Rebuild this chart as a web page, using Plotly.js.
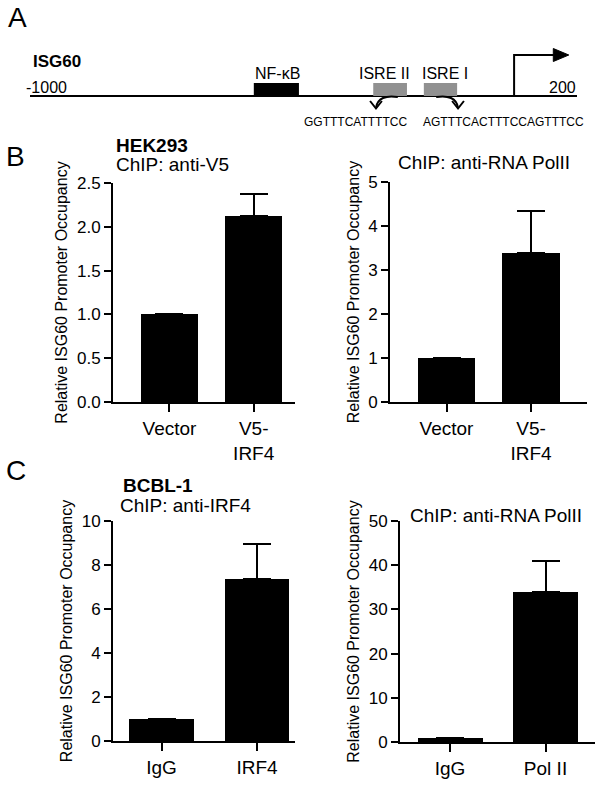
<!DOCTYPE html>
<html>
<head>
<meta charset="utf-8">
<script src="https://cdn.plot.ly/plotly-3.0.1.min.js"></script>
<style>
  body { margin: 0; background: #fff; }
  #chart { width: 602px; height: 785px; }
</style>
</head>
<body>
<div id="chart"></div>
<script>
// Panel A: promoter map (positions in bp relative to TSS, as drawn)
const mapStart = -1000;
const mapEnd = 200;
const elementNames = ['NF-κB', 'ISRE II', 'ISRE I'];
const elementStart = [-509, -247, -136];
const elementEnd = [-410, -173, -63];
const elementLabelPos = [-456, -223, -89];
const elementColors = ['#000000', '#919191', '#919191'];
const tssPos = 62;
const seqTexts = ['GGTTTCATTTTCC', 'AGTTTCACTTTCCAGTTTCC'];

// Panel B: HEK293
const bCats = ['Vector', 'V5-<br>IRF4'];
const bV5Vals = [1.0, 2.12];
const bV5Err = [null, 0.26];
const bPolVals = [1.0, 3.39];
const bPolErr = [null, 0.95];

// Panel C: BCBL-1
const cIrfCats = ['IgG', 'IRF4'];
const cIrfVals = [1.0, 7.35];
const cIrfErr = [null, 1.6];
const cPolCats = ['IgG', 'Pol II'];
const cPolVals = [1.0, 33.9];
const cPolErr = [null, 7.0];

const W = 602, H = 785;
const px = v => v / W;
const py = v => 1 - v / H;
const FONT = 'Liberation Sans, Arial, sans-serif';

function barTrace(cats, vals, err, xa, ya) {
    return {
        type: 'bar',
        x: cats,
        y: vals,
        xaxis: xa,
        yaxis: ya,
        width: 0.68,
        marker: { color: '#000', line: { width: 0 } },
        error_y: {
            type: 'data',
            array: err,
            arrayminus: [0, 0],
            symmetric: false,
            color: '#000',
            thickness: 2,
            width: 14
        },
        hoverinfo: 'skip'
    };
}

const data = [
    barTrace(bCats, bV5Vals, bV5Err, 'x', 'y'),
    barTrace(bCats, bPolVals, bPolErr, 'x2', 'y2'),
    barTrace(cIrfCats, cIrfVals, cIrfErr, 'x3', 'y3'),
    barTrace(cPolCats, cPolVals, cPolErr, 'x4', 'y4')
];

const xCommon = {
    type: 'category',
    showline: true, linecolor: '#000', linewidth: 2,
    ticks: 'outside', ticklen: 8, tickwidth: 2, tickcolor: '#000',
    tickfont: { family: FONT, size: 19, color: '#000' },
    showgrid: false, zeroline: false, fixedrange: true
};
const yTitle = {
    text: 'Relative ISG60 Promoter Occupancy',
    font: { family: FONT, size: 16, color: '#000' },
    standoff: 5
};
const yCommon = {
    showline: true, linecolor: '#000', linewidth: 2,
    ticks: 'outside', ticklen: 7, tickwidth: 2, tickcolor: '#000',
    tickfont: { family: FONT, size: 17, color: '#000' },
    showgrid: false, zeroline: false, fixedrange: true,
    automargin: false,
    title: yTitle
};

const layout = {
    width: W,
    height: H,
    margin: { l: 0, r: 0, t: 0, b: 0 },
    paper_bgcolor: '#fff',
    plot_bgcolor: 'rgba(0,0,0,0)',
    showlegend: false,
    bargap: 0,
    font: { family: FONT, color: '#000' },

    xaxis: Object.assign({}, xCommon, { domain: [px(113), px(295)], anchor: 'y', range: [-0.67, 1.49] }),
    yaxis: Object.assign({}, yCommon, { domain: [py(402), py(183)], anchor: 'x', range: [0, 2.5], dtick: 0.5, tickformat: '.1f' }),
    xaxis2: Object.assign({}, xCommon, { domain: [px(390), px(587)], anchor: 'y2', range: [-0.669, 1.663] }),
    yaxis2: Object.assign({}, yCommon, { domain: [py(402), py(182)], anchor: 'x2', range: [0, 5], dtick: 1 }),
    xaxis3: Object.assign({}, xCommon, { domain: [px(113), px(295)], anchor: 'y3', range: [-0.508, 1.398] }),
    yaxis3: Object.assign({}, yCommon, { domain: [py(741), py(521)], anchor: 'x3', range: [0, 10], dtick: 2 }),
    xaxis4: Object.assign({}, xCommon, { domain: [px(400), px(595)], anchor: 'y4', range: [-0.524, 1.518] }),
    yaxis4: Object.assign({}, yCommon, { domain: [py(742), py(521)], anchor: 'x4', range: [0, 50], dtick: 10 }),

    // hidden axes for the promoter map; 1 y unit = 1 px, line at y = 0
    xaxis5: { domain: [px(30), px(577)], anchor: 'y5', range: [mapStart, mapEnd], visible: false, fixedrange: true },
    yaxis5: { domain: [py(140), py(40)], anchor: 'x5', range: [-44, 56], visible: false, fixedrange: true },

    shapes: [],
    annotations: []
};

// promoter line
layout.shapes.push({ type: 'line', xref: 'x5', yref: 'y5', x0: mapStart, x1: mapEnd, y0: 0, y1: 0, line: { color: '#000', width: 2 } });
// element boxes and their labels
elementNames.forEach((name, i) => {
    layout.shapes.push({
        type: 'rect', xref: 'x5', yref: 'y5',
        x0: elementStart[i], x1: elementEnd[i], y0: 0, y1: 13,
        fillcolor: elementColors[i], line: { width: 0 }
    });
    layout.annotations.push({
        xref: 'x5', yref: 'y5', x: elementLabelPos[i], y: 23,
        text: name, showarrow: false, font: { size: 16 }
    });
});
// transcription start arrow
layout.shapes.push({
    type: 'path', xref: 'x5', yref: 'y5',
    path: `M ${tssPos},0 V 41 H 152`,
    line: { color: '#000', width: 2 }
});
layout.shapes.push({
    type: 'path', xref: 'x5', yref: 'y5',
    path: 'M 148,47.5 L 182,41 L 148,34.5 Z',
    fillcolor: '#000', line: { color: '#000', width: 1 }
});

// curved arrows from the ISREs down to their sequences
function curvedArrow(from, to) {
    const d = to > from ? 1 : -1;
    layout.shapes.push({
        type: 'path', xref: 'x5', yref: 'y5',
        path: `M ${from},-1 C ${from + d * 26},1 ${to - d * 3},-2 ${to},-12`,
        line: { color: '#000', width: 2 }
    });
    layout.shapes.push({
        type: 'path', xref: 'x5', yref: 'y5',
        path: `M ${to - 13},-5 L ${to},-12.5 L ${to + 13},-5`,
        line: { color: '#000', width: 2 }
    });
}
curvedArrow(elementEnd[1] - 20, elementStart[1] + 6);
curvedArrow(elementStart[2] + 27, elementEnd[2] + 2);

function note(text, x, y, size, opts) {
    layout.annotations.push(Object.assign({
        xref: 'paper', yref: 'paper', x: px(x), y: py(y),
        text: text, showarrow: false, font: { size: size, color: '#000' },
        xanchor: 'left', yanchor: 'middle'
    }, opts || {}));
}

// panel A texts
note('A', 6, 18, 28);
note('<b>ISG60</b>', 31, 62, 17);
note('-1000', 24, 88, 16);
note('200', 578, 88, 16, { xanchor: 'right' });
note(seqTexts[0], 355, 122, 12, { xanchor: 'center' });
note(seqTexts[1], 503, 122, 12, { xanchor: 'center' });

// panel B texts
note('B', 4, 157, 28);
note('<b>HEK293</b>', 114, 146, 19);
note('ChIP: anti-V5', 114, 165, 19);
note('ChIP: anti-RNA PolII', 396, 163, 19);

// panel C texts
note('C', 4, 470, 28);
note('<b>BCBL-1</b>', 121, 485, 19);
note('ChIP: anti-IRF4', 118, 505, 19);
note('ChIP: anti-RNA PolII', 408, 515, 19);

Plotly.newPlot('chart', data, layout, { staticPlot: true, displayModeBar: false });
</script>
</body>
</html>
